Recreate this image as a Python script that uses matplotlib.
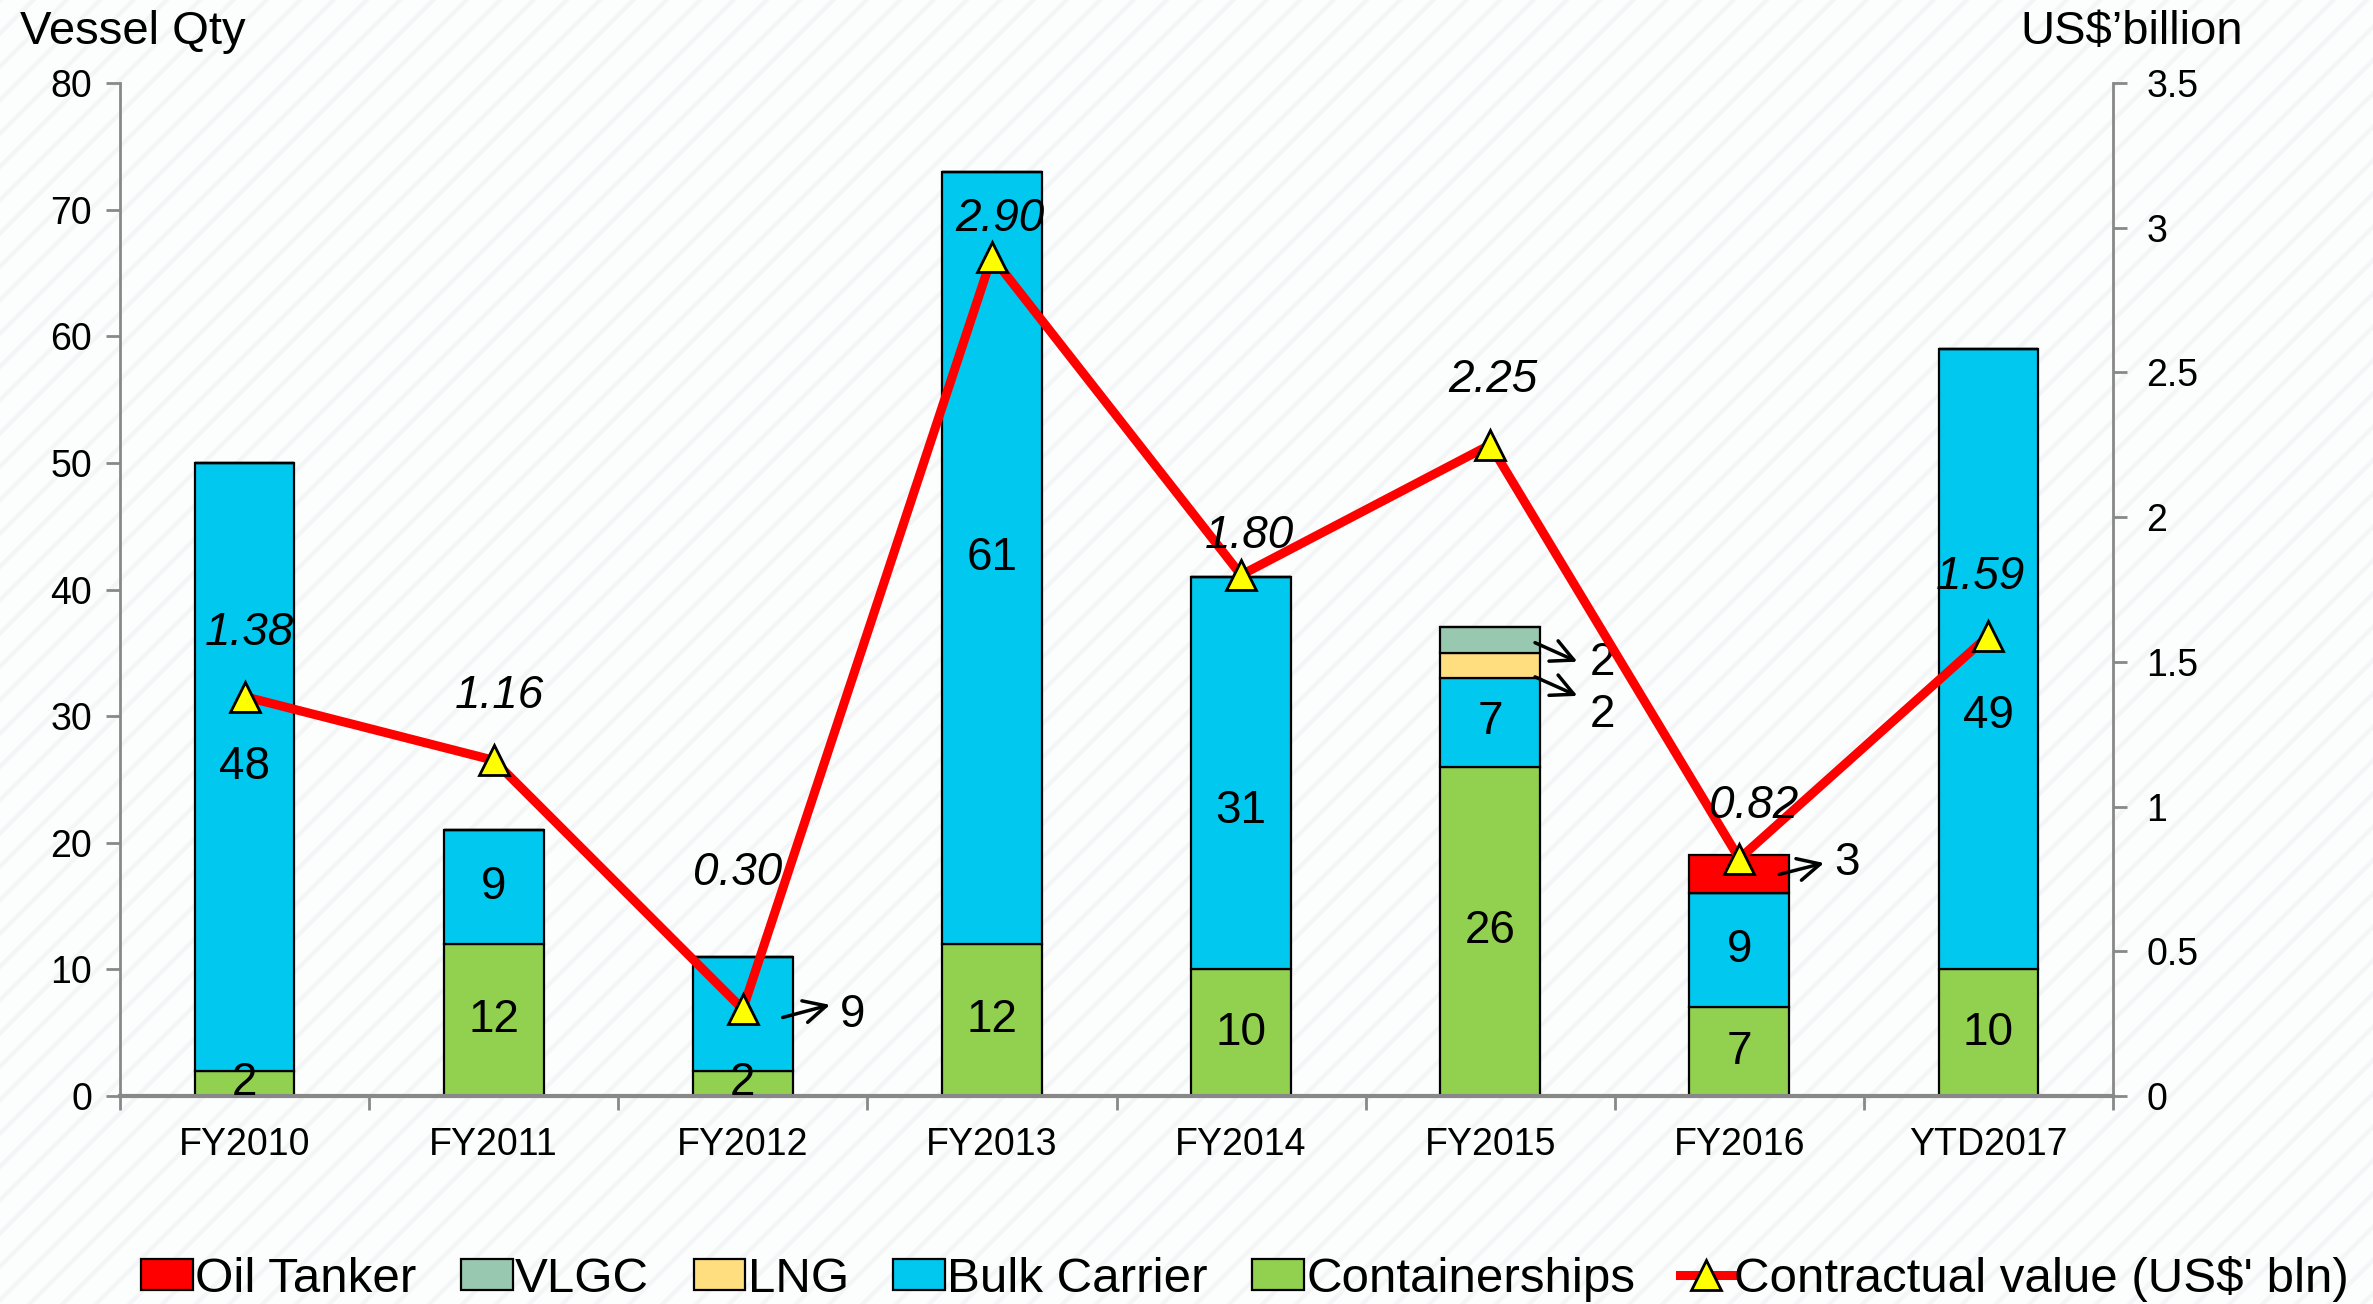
import matplotlib
matplotlib.use("Agg")
import matplotlib.pyplot as plt
from matplotlib.patches import Rectangle, Patch
from matplotlib.lines import Line2D
import numpy as np

categories = ["FY2010", "FY2011", "FY2012", "FY2013", "FY2014", "FY2015", "FY2016", "YTD2017"]
containerships = [2, 12, 2, 12, 10, 26, 7, 10]
bulk_carrier = [48, 9, 9, 61, 31, 7, 9, 49]
lng = [0, 0, 0, 0, 0, 2, 0, 0]
vlgc = [0, 0, 0, 0, 0, 2, 0, 0]
oil_tanker = [0, 0, 0, 0, 0, 0, 3, 0]
contract_value = [1.38, 1.16, 0.30, 2.90, 1.80, 2.25, 0.82, 1.59]
left_ticks = [0, 10, 20, 30, 40, 50, 60, 70, 80]
right_ticks = [0, 0.5, 1, 1.5, 2, 2.5, 3, 3.5]
right_tick_labels = ["0", "0.5", "1", "1.5", "2", "2.5", "3", "3.5"]

plt.rcParams['font.family'] = ['Liberation Sans', 'DejaVu Sans']
plt.rcParams['hatch.linewidth'] = 3.0

W, H = 2373, 1304
fig = plt.figure(figsize=(W / 100, H / 100), dpi=100)
fig.patch.set_facecolor('#fcfdfd')
bg = Rectangle((0, 0), 1, 1, transform=fig.transFigure, facecolor='#fcfdfd',
               edgecolor='#f3f5f6', hatch='/', lw=0, zorder=-10)
fig.patches.append(bg)

ax = fig.add_axes([120 / W, 1 - 1096 / H, (2113 - 120) / W, (1096 - 83) / H])
ax.set_facecolor('none')
ax2 = ax.twinx()

x = np.arange(len(categories))
bw = 0.40
colors = {
    'Containerships': '#92D050',
    'Bulk Carrier': '#00C8EF',
    'LNG': '#FFDE7F',
    'VLGC': '#98C8B0',
    'Oil Tanker': '#FF0000',
}
series = [('Containerships', containerships), ('Bulk Carrier', bulk_carrier),
          ('LNG', lng), ('VLGC', vlgc), ('Oil Tanker', oil_tanker)]
bottom = np.zeros(len(x))
centers = {}
for name, vals in series:
    v = np.array(vals, dtype=float)
    ax.bar(x, v, bw, bottom=bottom, color=colors[name], edgecolor='black', linewidth=1.6, zorder=2)
    centers[name] = bottom + v / 2
    bottom = bottom + v

outside = {('Bulk Carrier', 2)}
nudge = {('Bulk Carrier', 4): -3.0, ('Bulk Carrier', 7): -4.5}
for name, vals in series[:2]:
    for i, v in enumerate(vals):
        if v > 0 and (name, i) not in outside:
            ax.text(x[i], centers[name][i] + nudge.get((name, i), 0), str(v),
                    ha='center', va='center', fontsize=33, zorder=3)

def arrow_label(i, val, tail, head, txt):
    ax.annotate('', xy=(x[i] + head[0], head[1]), xytext=(x[i] + tail[0], tail[1]),
                arrowprops=dict(arrowstyle='->', color='black', lw=2.5, mutation_scale=40,
                                shrinkA=0, shrinkB=0), zorder=4)
    ax.text(x[i] + txt[0], txt[1], str(val), ha='left', va='center', fontsize=33, zorder=4)

arrow_label(2, bulk_carrier[2], (0.16, 6.2), (0.35, 7.2), (0.39, 6.4))
arrow_label(5, vlgc[5], (0.18, 35.8), (0.35, 34.3), (0.40, 34.2))
arrow_label(5, lng[5], (0.18, 33.1), (0.35, 31.6), (0.40, 30.1))
arrow_label(6, oil_tanker[6], (0.16, 17.5), (0.34, 18.4), (0.38, 18.4))

ax.set_xlim(-0.5, len(x) - 0.5)
ax.set_ylim(0, 80)
ax.set_yticks(left_ticks)
ax.set_xticks(x)
ax.set_xticklabels(categories, fontsize=27)
ax.set_xticks(np.arange(-0.5, len(x) + 0.5, 1), minor=True)
ax.tick_params(axis='x', which='major', length=0, pad=22)
ax.tick_params(axis='x', which='minor', length=10, width=2, color='#888888')
ax.tick_params(axis='y', labelsize=27, length=10, width=2, color='#888888', pad=10)
for s in ['top', 'right']:
    ax.spines[s].set_visible(False)
ax.spines['left'].set_color('#888888')
ax.spines['left'].set_linewidth(2)
ax.spines['bottom'].set_color('#888888')
ax.spines['bottom'].set_linewidth(3)

ax2.plot(x, contract_value, color='#FF0000', lw=6.5, marker='^', markersize=21,
         markerfacecolor='#FFFF00', markeredgecolor='black', markeredgewidth=2, zorder=5)
ax2.set_ylim(0, 3.5)
ax2.set_yticks(right_ticks)
ax2.set_yticklabels(right_tick_labels)
ax2.tick_params(axis='y', labelsize=27, length=10, width=2, color='#888888', pad=14)
for s in ['top', 'left', 'bottom']:
    ax2.spines[s].set_visible(False)
ax2.spines['right'].set_color('#888888')
ax2.spines['right'].set_linewidth(2)

val_offsets = [(5, 64), (6, 64), (-5, 136), (8, 38), (8, 39), (3, 65), (14, 53), (-8, 59)]
for i, v in enumerate(contract_value):
    ax2.annotate(f"{v:.2f}", (x[i], v), xytext=val_offsets[i], textcoords='offset pixels',
                 ha='center', va='center', fontsize=33, style='italic', zorder=6)

fig.text(20 / W, 1 - 32 / H, "Vessel Qty", ha='left', va='center', fontsize=34)
fig.text(2243 / W, 1 - 32 / H, "US$\u2019billion", ha='right', va='center', fontsize=34)

handles = [Patch(facecolor=colors[n], edgecolor='black', linewidth=1.6) for n in
           ['Oil Tanker', 'VLGC', 'LNG', 'Bulk Carrier', 'Containerships']]
handles.append(Line2D([0], [0], color='#FF0000', lw=6.5, marker='^', markersize=21,
                      markerfacecolor='#FFFF00', markeredgecolor='black', markeredgewidth=2))
labels = ['Oil Tanker', 'VLGC', 'LNG', 'Bulk Carrier', 'Containerships', "Contractual value (US$' bln)"]
fig.legend(handles, labels, loc='center', bbox_to_anchor=(1245 / W, 1 - 1279 / H), ncol=6,
           frameon=False, prop={'family': ['Liberation Sans'], 'size': 35.5},
           handlelength=1.05, handleheight=0.6, handletextpad=0.05, columnspacing=0.9,
           borderpad=0)

fig.savefig("out.png", dpi=100, facecolor=fig.get_facecolor())
